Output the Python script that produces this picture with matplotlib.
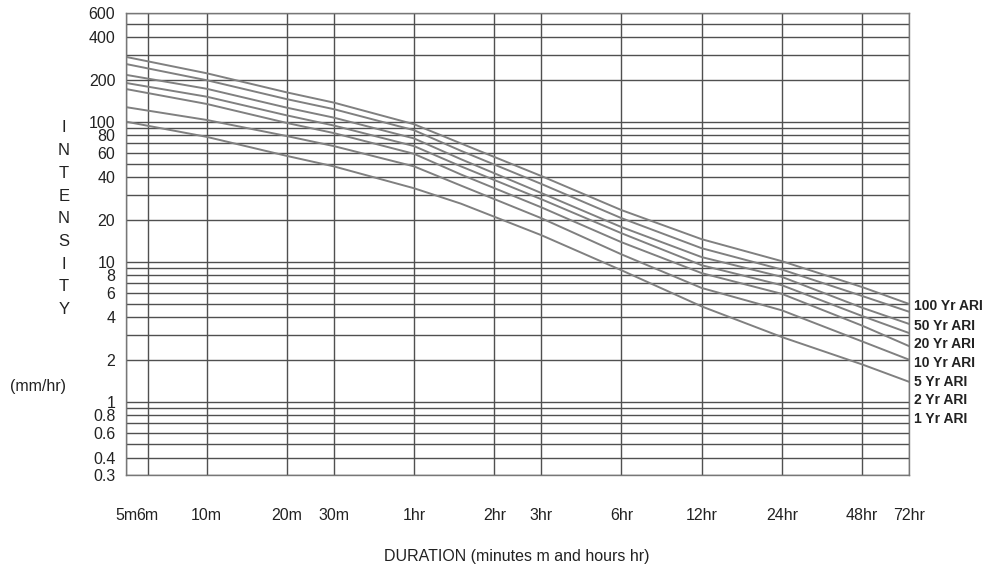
import matplotlib
matplotlib.use("Agg")
import matplotlib.pyplot as plt

# durations in minutes
durations = [5, 10, 20, 30, 60, 90, 180, 360, 720, 1440, 2880, 4320]

# intensity (mm/hr) for each ARI
ari_1 = [100, 78, 57, 48, 33.5, 26, 15.5, 8.7, 4.8, 2.9, 1.85, 1.39]
ari_2 = [127, 103, 79, 67, 48, 35, 20.5, 11.3, 6.5, 4.5, 2.7, 2.0]
ari_5 = [171, 134, 98, 83, 59, 42, 24.5, 13.8, 8.3, 5.9, 3.5, 2.5]
ari_10 = [189, 151, 111, 94, 67, 48, 28, 16.0, 9.45, 6.8, 4.1, 3.1]
ari_20 = [216, 172, 126, 107, 76, 54, 31, 17.7, 10.8, 7.8, 4.7, 3.6]
ari_50 = [258, 198, 145, 123, 87, 62, 36, 20.5, 12.5, 8.8, 5.7, 4.4]
ari_100 = [290, 222, 162, 137, 96, 70, 41, 23.4, 14.5, 10.1, 6.6, 5.0]

series = [ari_100, ari_50, ari_20, ari_10, ari_5, ari_2, ari_1]
series_labels = ["100 Yr ARI", "50 Yr ARI", "20 Yr ARI", "10 Yr ARI",
                 "5 Yr ARI", "2 Yr ARI", "1 Yr ARI"]

x_ticks = [5, 6, 10, 20, 30, 60, 120, 180, 360, 720, 1440, 2880, 4320]
x_tick_labels = ["5m", "6m", "10m", "20m", "30m", "1hr", "2hr", "3hr",
                 "6hr", "12hr", "24hr", "48hr", "72hr"]

y_labelled = [600, 400, 200, 100, 80, 60, 40, 20, 10, 8, 6, 4, 2, 1,
              0.8, 0.6, 0.4, 0.3]


def fmt(v):
    return "{:g}".format(v)


def main():
    plt.rcParams['font.family'] = ['Liberation Sans', 'DejaVu Sans']

    fig = plt.figure(figsize=(9.99, 5.71), dpi=100)
    ax = fig.add_axes([0.1266, 0.1681, 0.7833, 0.8095])
    ax.set_xscale('log')
    ax.set_yscale('log')
    ax.set_xlim(5, 4320)
    ax.set_ylim(0.3, 600)

    # horizontal grid at every 1..9 x decade
    y_grid = [round(m * d, 3) for d in (0.1, 1, 10, 100) for m in range(1, 10)
              if 0.3 <= m * d <= 600]
    ax.set_yticks(y_grid)
    ax.set_yticklabels([fmt(v) if v in y_labelled else "" for v in y_grid])
    ax.yaxis.set_minor_locator(plt.NullLocator())
    ax.set_xticks(x_ticks)
    ax.set_xticklabels(x_tick_labels)
    ax.xaxis.set_minor_locator(plt.NullLocator())

    ax.grid(True, which='major', color='#505050', linewidth=1.0)
    ax.tick_params(length=0, labelsize=11.5, colors='#222222')
    ax.tick_params(axis='x', pad=24)
    ax.tick_params(axis='y', pad=8)
    for sp in ax.spines.values():
        sp.set_color('#777777')
        sp.set_linewidth(1.0)

    for vals in series:
        ax.plot(durations, vals, color='#808080', linewidth=1.4)

    # right hand labels
    label_y = [306, 326, 344, 363, 382, 400, 419]
    for lab, yp in zip(series_labels, label_y):
        fig.text(914 / 999, 1 - yp / 571, lab, fontsize=10, fontweight='bold',
                 color='#222222', va='center', ha='left')

    # stacked y label
    letters = list("INTENSITY")
    for i, ch in enumerate(letters):
        yp = 128 + i * 22.7
        fig.text(64 / 999, 1 - yp / 571, ch, fontsize=12, color='#222222',
                 ha='center', va='center')
    fig.text(38 / 999, 1 - 386 / 571, "(mm/hr)", fontsize=11.5,
             color='#222222', ha='center', va='center')

    fig.text(517 / 999, 1 - 556 / 571, "DURATION (minutes m and hours hr)",
             fontsize=11.5, color='#222222', ha='center', va='center')

    fig.savefig("out.png", dpi=100)


if __name__ == '__main__':
    main()
